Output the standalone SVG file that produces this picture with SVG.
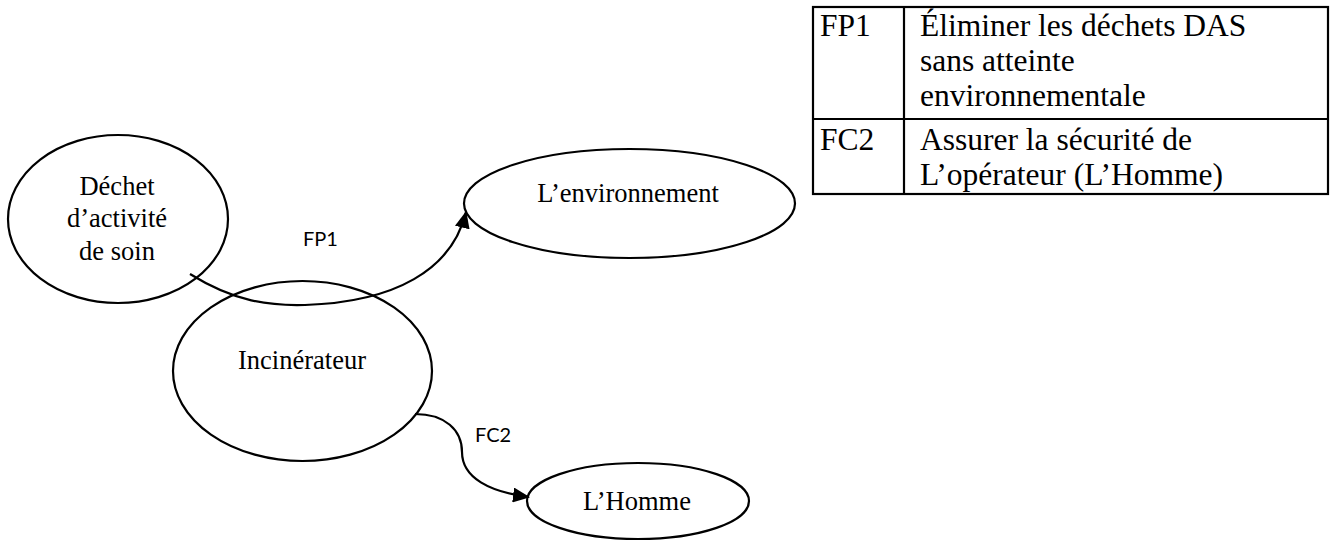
<svg xmlns="http://www.w3.org/2000/svg" width="1332" height="543" viewBox="0 0 1332 543">
  <style>
    .node { fill: #ffffff; stroke: #000000; stroke-width: 2.2; }
    .label { font-family: "Liberation Serif", "Times New Roman", serif; font-size: 26.5px; fill: #000000; text-anchor: middle; }
    .flow { fill: none; stroke: #000000; stroke-width: 2.2; }
    .flowtag { font-family: Lato, "Liberation Sans", sans-serif; font-size: 20px; fill: #000000; }
    .grid { fill: none; stroke: #000000; stroke-width: 2.2; }
    .cell { font-family: "Liberation Serif", "Times New Roman", serif; font-size: 31.5px; fill: #000000; }
  </style>
  <defs>
    <marker id="arrow" markerUnits="userSpaceOnUse" markerWidth="17" markerHeight="15" viewBox="0 0 17 15" refX="16" refY="7.5" orient="auto">
      <path d="M0,0 L17,7.5 L0,15 z" fill="#000000"/>
    </marker>
  </defs>
  <rect width="1332" height="543" fill="#ffffff"/>

  <!-- nodes -->
  <g id="node-dechet">
    <ellipse class="node" cx="118" cy="219" rx="110" ry="84"/>
    <text class="label" x="117" y="195">Déchet</text>
    <text class="label" x="117" y="227">d’activité</text>
    <text class="label" x="117" y="260">de soin</text>
  </g>
  <g id="node-incinerateur">
    <ellipse class="node" cx="302.5" cy="371" rx="129.5" ry="90"/>
    <text class="label" x="302" y="369">Incinérateur</text>
  </g>
  <g id="node-environnement">
    <ellipse class="node" cx="629.5" cy="203.5" rx="165.5" ry="54.5"/>
    <text class="label" x="628" y="202">L’environnement</text>
  </g>
  <g id="node-homme">
    <ellipse class="node" cx="638" cy="501" rx="111" ry="38"/>
    <text class="label" x="637" y="510">L’Homme</text>
  </g>

  <!-- connectors -->
  <g id="connectors">
    <path class="flow" d="M190,274 C235,302 270,306 305,305 C395,302 452,270 466,212" marker-end="url(#arrow)"/>
    <text class="flowtag" x="303" y="246">FP1</text>
    <path class="flow" d="M415,414 C445,414 462,430 462,452 C462,478 490,492 529,497" marker-end="url(#arrow)"/>
    <text class="flowtag" x="475" y="442">FC2</text>
  </g>

  <!-- function table -->
  <g id="function-table">
    <rect class="grid" x="813" y="7" width="515" height="187"/>
    <line class="grid" x1="904" y1="7" x2="904" y2="194"/>
    <line class="grid" x1="813" y1="119" x2="1328" y2="119"/>
    <text class="cell" x="820" y="36">FP1</text>
    <text class="cell" x="920" y="36">Éliminer les déchets DAS</text>
    <text class="cell" x="920" y="71">sans atteinte</text>
    <text class="cell" x="920" y="106">environnementale</text>
    <text class="cell" x="820" y="150">FC2</text>
    <text class="cell" x="920" y="150">Assurer la sécurité de</text>
    <text class="cell" x="920" y="185">L’opérateur (L’Homme)</text>
  </g>
</svg>
